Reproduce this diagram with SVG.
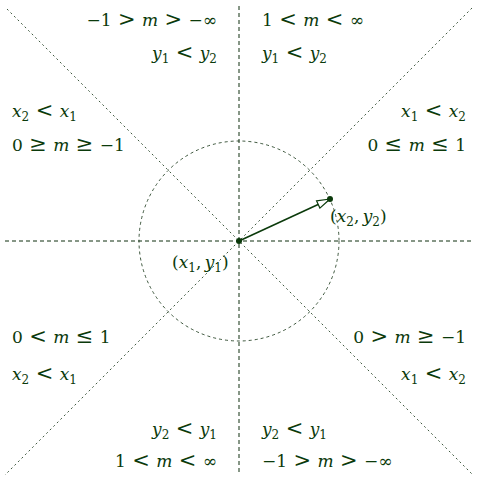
<svg xmlns="http://www.w3.org/2000/svg" width="481" height="487" viewBox="0 0 481 487">
<defs>
<style>
.t{font-family:"DejaVu Serif",serif;font-size:17px;fill:#0b3a0b;word-spacing:1px}
.i{font-style:italic}
.s{font-size:12px}
.r{font-size:21px}
.ax{stroke:#0f2f0f;stroke-width:1;stroke-dasharray:4,3;fill:none}
.dg{stroke:#0f2f0f;stroke-width:0.8;stroke-dasharray:2,3;fill:none}
.ci{stroke:#0f2f0f;stroke-width:0.8;stroke-dasharray:3,3;fill:none}
</style>
<marker id="ah" markerWidth="16" markerHeight="10" refX="14" refY="5" orient="auto" markerUnits="userSpaceOnUse">
<path d="M1,1 L14,5 L1,9 Z" fill="#fff" stroke="#0b3a0b" stroke-width="1.2"/>
</marker>
</defs>
<rect width="481" height="487" fill="#fff"/>
<g id="connectors">
<line class="ax" x1="239" y1="6" x2="239" y2="474"/>
<line class="ax" x1="5" y1="241" x2="473" y2="241"/>
<line class="dg" x1="7" y1="9" x2="473" y2="475"/>
<line class="dg" x1="472" y1="8" x2="5" y2="475"/>
<circle class="ci" cx="239" cy="241" r="100"/>
<line x1="239" y1="241" x2="330" y2="199" stroke="#0b3a0b" stroke-width="1.6" marker-end="url(#ah)"/>
</g>
<g id="p1"><circle cx="239" cy="241" r="3" fill="#0b3a0b"/>
<text class="t" x="172" y="268" style="word-spacing:-2px">(<tspan class="i">x</tspan><tspan class="s" dy="4">1</tspan><tspan dy="-4">, </tspan><tspan class="i">y</tspan><tspan class="s" dy="4">1</tspan><tspan dy="-4">)</tspan></text></g>
<g id="p2"><circle cx="330" cy="199" r="3" fill="#0b3a0b"/>
<text class="t" x="330" y="222" style="word-spacing:-2px">(<tspan class="i">x</tspan><tspan class="s" dy="4">2</tspan><tspan dy="-4">, </tspan><tspan class="i">y</tspan><tspan class="s" dy="4">2</tspan><tspan dy="-4">)</tspan></text></g>
<g id="top-left">
<text class="t" x="217" y="26" text-anchor="end">−1 <tspan class="r">&gt;</tspan> <tspan class="i">m</tspan> <tspan class="r">&gt;</tspan> −∞</text>
<text class="t" x="217" y="59" text-anchor="end"><tspan class="i">y</tspan><tspan class="s" dy="4">1</tspan><tspan dy="-4"> </tspan><tspan class="r">&lt;</tspan> <tspan class="i">y</tspan><tspan class="s" dy="4">2</tspan></text>
</g>
<g id="top-right">
<text class="t" x="262" y="26">1 <tspan class="r">&lt;</tspan> <tspan class="i">m</tspan> <tspan class="r">&lt;</tspan> ∞</text>
<text class="t" x="262" y="59"><tspan class="i">y</tspan><tspan class="s" dy="4">1</tspan><tspan dy="-4"> </tspan><tspan class="r">&lt;</tspan> <tspan class="i">y</tspan><tspan class="s" dy="4">2</tspan></text>
</g>
<g id="left-upper">
<text class="t" x="12" y="117"><tspan class="i">x</tspan><tspan class="s" dy="4">2</tspan><tspan dy="-4"> </tspan><tspan class="r">&lt;</tspan> <tspan class="i">x</tspan><tspan class="s" dy="4">1</tspan></text>
<text class="t" x="12" y="151">0 <tspan class="r">≥</tspan> <tspan class="i">m</tspan> <tspan class="r">≥</tspan> −1</text>
</g>
<g id="right-upper">
<text class="t" x="466" y="117" text-anchor="end"><tspan class="i">x</tspan><tspan class="s" dy="4">1</tspan><tspan dy="-4"> </tspan><tspan class="r">&lt;</tspan> <tspan class="i">x</tspan><tspan class="s" dy="4">2</tspan></text>
<text class="t" x="466" y="151" text-anchor="end">0 <tspan class="r">≤</tspan> <tspan class="i">m</tspan> <tspan class="r">≤</tspan> 1</text>
</g>
<g id="left-lower">
<text class="t" x="12" y="343">0 <tspan class="r">&lt;</tspan> <tspan class="i">m</tspan> <tspan class="r">≤</tspan> 1</text>
<text class="t" x="12" y="380"><tspan class="i">x</tspan><tspan class="s" dy="4">2</tspan><tspan dy="-4"> </tspan><tspan class="r">&lt;</tspan> <tspan class="i">x</tspan><tspan class="s" dy="4">1</tspan></text>
</g>
<g id="right-lower">
<text class="t" x="466" y="343" text-anchor="end">0 <tspan class="r">&gt;</tspan> <tspan class="i">m</tspan> <tspan class="r">≥</tspan> −1</text>
<text class="t" x="466" y="380" text-anchor="end"><tspan class="i">x</tspan><tspan class="s" dy="4">1</tspan><tspan dy="-4"> </tspan><tspan class="r">&lt;</tspan> <tspan class="i">x</tspan><tspan class="s" dy="4">2</tspan></text>
</g>
<g id="bottom-left">
<text class="t" x="217" y="435" text-anchor="end"><tspan class="i">y</tspan><tspan class="s" dy="4">2</tspan><tspan dy="-4"> </tspan><tspan class="r">&lt;</tspan> <tspan class="i">y</tspan><tspan class="s" dy="4">1</tspan></text>
<text class="t" x="217" y="467" text-anchor="end">1 <tspan class="r">&lt;</tspan> <tspan class="i">m</tspan> <tspan class="r">&lt;</tspan> ∞</text>
</g>
<g id="bottom-right">
<text class="t" x="262" y="435"><tspan class="i">y</tspan><tspan class="s" dy="4">2</tspan><tspan dy="-4"> </tspan><tspan class="r">&lt;</tspan> <tspan class="i">y</tspan><tspan class="s" dy="4">1</tspan></text>
<text class="t" x="262" y="467">−1 <tspan class="r">&gt;</tspan> <tspan class="i">m</tspan> <tspan class="r">&gt;</tspan> −∞</text>
</g>
</svg>
